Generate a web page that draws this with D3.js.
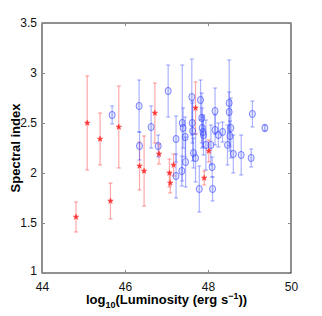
<!DOCTYPE html>
<html lang="en">
<head>
<meta charset="UTF-8">
<title>Spectral index vs luminosity</title>
<script src="https://cdn.jsdelivr.net/npm/d3@7"></script>
<style>
  body { margin: 0; background: #fff; }
  text { font-family: "Liberation Sans", Arial, sans-serif; }
</style>
</head>
<body>
<script>
// blue circles: log luminosity, spectral index, error
const blueLum = [45.69, 46.34, 46.35, 46.63, 46.80, 47.04, 47.23, 47.23, 47.37, 47.38, 47.40, 47.45, 47.46,
  47.61, 47.62, 47.63, 47.65, 47.70, 47.79, 47.82, 47.85, 47.86, 47.88, 47.89, 47.95, 48.07, 48.10, 48.11,
  48.17, 48.17, 48.25, 48.35, 48.47, 48.51, 48.51, 48.53, 48.55, 48.61, 48.80, 49.04, 49.07, 49.37];
const blueIdx = [2.58, 2.67, 2.27, 2.46, 2.27, 2.82, 2.34, 1.97, 2.02, 2.50, 2.45, 2.36, 2.11,
  2.76, 2.50, 2.42, 2.20, 2.15, 1.84, 2.73, 2.55, 2.45, 2.41, 2.38, 2.28, 2.28, 2.06, 1.84,
  2.62, 2.43, 2.38, 2.41, 2.28, 2.70, 2.61, 2.37, 2.45, 2.19, 2.18, 2.15, 2.59, 2.45];
const blueErr = [0.09, 0.26, 0.14, 0.21, 0.11, 0.26, 0.23, 0.22, 0.15, 0.58, 0.20, 0.20, 0.25,
  0.38, 0.20, 0.30, 0.15, 0.24, 0.23, 0.20, 0.25, 0.20, 0.15, 0.20, 0.25, 0.20, 0.10, 0.12,
  0.23, 0.15, 0.12, 0.10, 0.20, 0.43, 0.20, 0.15, 0.30, 0.19, 0.20, 0.09, 0.13, 0.03];

// red stars
const redLum = [44.82, 45.09, 45.40, 45.65, 45.85, 46.35, 46.46, 46.72, 46.82, 47.07, 47.09, 47.17, 47.70, 47.91, 48.02];
const redIdx = [1.56, 2.50, 2.34, 1.72, 2.46, 2.07, 2.02, 2.60, 2.19, 2.00, 1.90, 2.08, 2.65, 1.95, 2.22];
const redErr = [0.15, 0.47, 0.26, 0.18, 0.41, 0.24, 0.35, 0.30, 0.10, 0.14, 0.10, 0.11, 0.26, 0.07, 0.11];

const xTicks = [44, 46, 48, 50];
const yTicks = [1, 1.5, 2, 2.5, 3, 3.5];

const width = 322, height = 316;
const m = {left: 42, right: 291, top: 23, bottom: 273};

const x = d3.scaleLinear([44, 50], [m.left, m.right]);
const y = d3.scaleLinear([1, 3.5], [m.bottom, m.top]);

const svg = d3.select("body").append("svg")
    .attr("width", width)
    .attr("height", height);

const blue = blueLum.map((d, i) => ({x: d, y: blueIdx[i], e: blueErr[i]}));
const red = redLum.map((d, i) => ({x: d, y: redIdx[i], e: redErr[i]}));

// error bars with small caps
function errorBars(data, color, op) {
    const g = svg.append("g").attr("stroke", color).attr("stroke-opacity", op).attr("stroke-width", 1.2);
    g.selectAll("line.v").data(data).join("line").attr("class", "v")
        .attr("x1", d => x(d.x)).attr("x2", d => x(d.x))
        .attr("y1", d => y(d.y + d.e)).attr("y2", d => y(d.y - d.e));
    g.selectAll("line.t").data(data).join("line").attr("class", "t")
        .attr("x1", d => x(d.x) - 2).attr("x2", d => x(d.x) + 2)
        .attr("y1", d => y(d.y + d.e)).attr("y2", d => y(d.y + d.e));
    g.selectAll("line.b").data(data).join("line").attr("class", "b")
        .attr("x1", d => x(d.x) - 2).attr("x2", d => x(d.x) + 2)
        .attr("y1", d => y(d.y - d.e)).attr("y2", d => y(d.y - d.e));
}

errorBars(red, "#ff4040", 0.45);
errorBars(blue, "#3040ff", 0.4);

svg.append("g").selectAll("ellipse").data(blue).join("ellipse")
    .attr("cx", d => x(d.x)).attr("cy", d => y(d.y))
    .attr("rx", 3).attr("ry", 3.6)
    .attr("fill", "#3040ff").attr("fill-opacity", 0.12)
    .attr("stroke", "#3040ff").attr("stroke-opacity", 0.6).attr("stroke-width", 1);

const star = d3.symbol(d3.symbolStar, 9);
svg.append("g").selectAll("path").data(red).join("path")
    .attr("transform", d => `translate(${x(d.x)},${y(d.y)})`)
    .attr("d", star)
    .attr("fill", "#ff3030").attr("stroke", "#ff3030").attr("stroke-width", 0.6);

// axes box
svg.append("rect")
    .attr("x", m.left).attr("y", m.top)
    .attr("width", m.right - m.left).attr("height", m.bottom - m.top)
    .attr("fill", "none").attr("stroke", "#222").attr("stroke-width", 1);

const axB = svg.append("g").attr("transform", `translate(0,${m.bottom})`)
    .call(d3.axisBottom(x).tickValues(xTicks).tickSizeInner(-3).tickSizeOuter(0).tickPadding(9).tickFormat(d3.format("d")));
const axT = svg.append("g").attr("transform", `translate(0,${m.top})`)
    .call(d3.axisTop(x).tickValues(xTicks).tickSizeInner(-3).tickSizeOuter(0).tickFormat(""));
const axL = svg.append("g").attr("transform", `translate(${m.left},0)`)
    .call(d3.axisLeft(y).tickValues(yTicks).tickSizeInner(-3).tickSizeOuter(0).tickPadding(5).tickFormat(d3.format("~g")));
const axR = svg.append("g").attr("transform", `translate(${m.right},0)`)
    .call(d3.axisRight(y).tickValues(yTicks).tickSizeInner(-3).tickSizeOuter(0).tickFormat(""));

[axB, axT, axL, axR].forEach(a => {
    a.select(".domain").remove();
    a.selectAll(".tick line").attr("stroke", "#888");
    a.selectAll("text").attr("font-size", 12).attr("fill", "#111")
        .attr("font-family", "'Liberation Sans', Arial, sans-serif");
});
// lowest y label sits just above the corner, as in the original
axL.selectAll(".tick text").filter(d => d === 1).attr("dy", "0.1em");

// axis labels
const xl = svg.append("text")
    .attr("x", (m.left + m.right) / 2).attr("y", 304)
    .attr("text-anchor", "middle")
    .attr("font-size", 13).attr("font-weight", "bold");
xl.append("tspan").text("log");
xl.append("tspan").attr("font-size", 9).attr("dy", 4).text("10");
xl.append("tspan").attr("dy", -4).text("(Luminosity (erg s");
xl.append("tspan").attr("font-size", 9).attr("dy", -5).text("\u22121");
xl.append("tspan").attr("dy", 5).text("))");

svg.append("text")
    .attr("transform", `translate(20,${(m.top + m.bottom) / 2}) rotate(-90)`)
    .attr("text-anchor", "middle")
    .attr("font-size", 13).attr("font-weight", "bold")
    .text("Spectral index");
</script>
</body>
</html>
